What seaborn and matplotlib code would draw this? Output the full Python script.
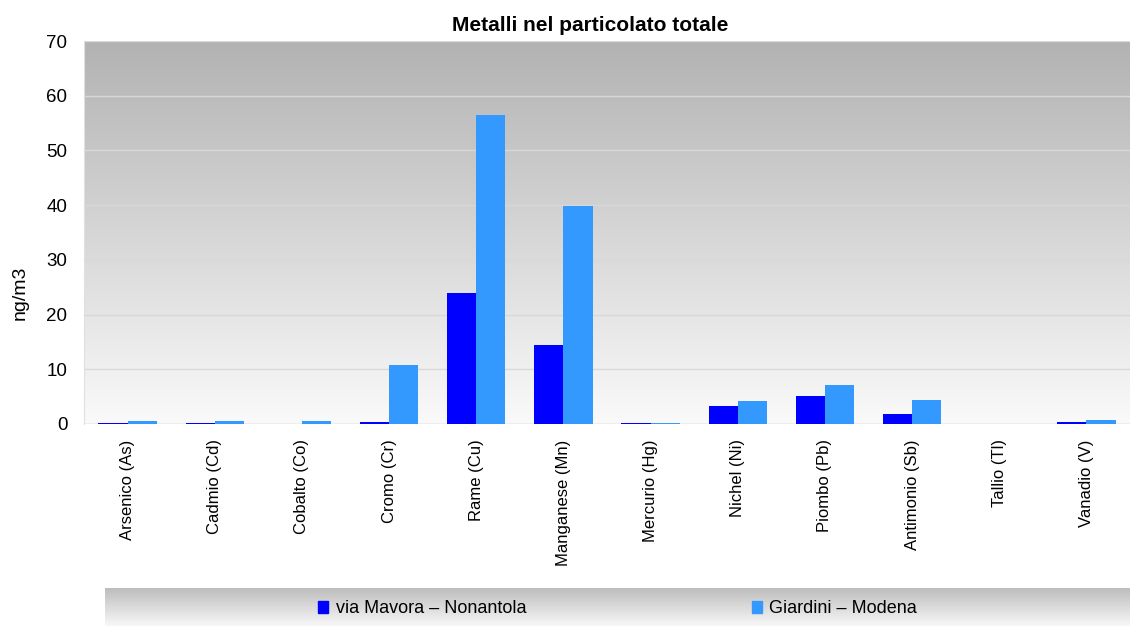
import numpy as np
import pandas as pd
import matplotlib
matplotlib.use("Agg")
import matplotlib.pyplot as plt
import seaborn as sns

metalli = ["Arsenico (As)", "Cadmio (Cd)", "Cobalto (Co)", "Cromo (Cr)", "Rame (Cu)",
           "Manganese (Mn)", "Mercurio (Hg)", "Nichel (Ni)", "Piombo (Pb)",
           "Antimonio (Sb)", "Tallio (Tl)", "Vanadio (V)"]
stazioni = ["via Mavora – Nonantola", "Giardini – Modena"]
nonantola = [0.1, 0.1, 0.0, 0.4, 23.9, 14.4, 0.1, 3.3, 5.1, 1.8, 0.0, 0.4]
modena = [0.6, 0.5, 0.6, 10.8, 56.4, 39.8, 0.2, 4.2, 7.2, 4.4, 0.0, 0.8]
colori = ["#0000ff", "#3399ff"]

df = pd.DataFrame({
    "metallo": metalli * 2,
    "stazione": [stazioni[0]] * len(metalli) + [stazioni[1]] * len(metalli),
    "valore": nonantola + modena,
})

sns.set_style("white")
plt.rcParams["font.family"] = ["Liberation Sans", "DejaVu Sans"]
plt.rcParams["text.color"] = "black"
plt.rcParams["axes.labelcolor"] = "black"
plt.rcParams["xtick.color"] = "black"
plt.rcParams["ytick.color"] = "black"

fig = plt.figure(figsize=(11.3, 6.26), dpi=100)
ax = fig.add_axes([0.0743, 0.3227, 0.9257, 0.6118])

sns.barplot(data=df, x="metallo", y="valore", hue="stazione", palette=colori,
            width=0.67, ax=ax, saturation=1, legend=False, zorder=3,
            linewidth=0)

# sfondo sfumato
grad = np.linspace(0, 1, 256).reshape(-1, 1)
ax.imshow(grad, extent=[-0.5, len(metalli) - 0.5, 0, 70], aspect="auto",
          cmap=matplotlib.colors.LinearSegmentedColormap.from_list("g", ["#fafafa", "#b2b2b2"]),
          origin="lower", zorder=0)
ax.set_xlim(-0.5, len(metalli) - 0.5)
ax.set_ylim(0, 70)
ax.set_yticks(range(0, 71, 10))
ax.yaxis.grid(True, color="#d8d8d8", linewidth=1, zorder=1)
ax.set_axisbelow(False)
for spine in ["top", "right", "bottom"]:
    ax.spines[spine].set_visible(False)
ax.spines["left"].set_color("#e0e0e0")
ax.axhline(0, color="#dddddd", linewidth=1, zorder=2)

ax.tick_params(axis="y", length=8, color="#e0e0e0", labelcolor="black", labelsize=13.5, pad=4)
ax.set_xticks(range(len(metalli)))
ax.set_xticklabels(metalli, rotation=90, fontsize=12)
ax.tick_params(axis="x", length=0, pad=11, labelcolor="black")
ax.set_xticks(np.arange(-0.5, len(metalli), 1), minor=True)
ax.tick_params(axis="x", which="minor", length=12, color="#dddddd", width=1.5)
ax.set_xlabel("")
ax.set_ylabel("ng/m3", fontsize=14)
ax.yaxis.set_label_coords(-0.053, 0.342)
ax.set_title("Metalli nel particolato totale", fontsize=15, fontweight="bold", pad=7, x=0.484)

# riquadro legenda
lax = fig.add_axes([0.0929, 0.0, 0.9071, 0.0607])
lax.imshow(grad, extent=[0, 1, 0, 1], aspect="auto",
           cmap=matplotlib.colors.LinearSegmentedColormap.from_list("l", ["#f8f8f8", "#bdbdbd"]),
           origin="lower")
lax.set_xticks([])
lax.set_yticks([])
for s in lax.spines.values():
    s.set_visible(False)
handles = [plt.Rectangle((0, 0), 1, 1, color=c) for c in colori]
lax.legend(handles, stazioni, loc="center", ncol=2, frameon=False, fontsize=13,
           handlelength=0.55, handleheight=0.7, handletextpad=0.4, columnspacing=12.5,
           bbox_to_anchor=(0.5, 0.45))

fig.savefig("out.png", dpi=100)
